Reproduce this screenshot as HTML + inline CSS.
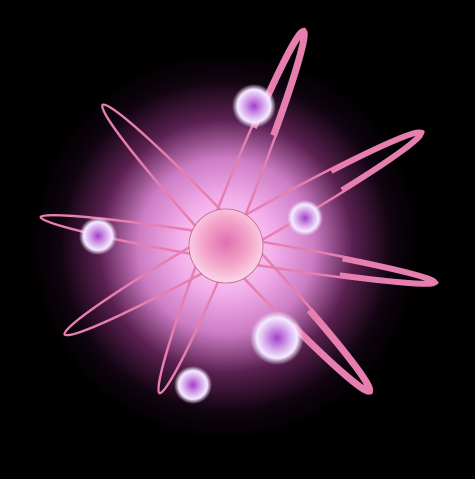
<!DOCTYPE html>
<html><head><meta charset="utf-8"><style>
html,body{margin:0;padding:0;background:#000;width:475px;height:479px;overflow:hidden}
</style></head><body>
<svg width="475" height="479" viewBox="0 0 475 479">
<defs>
<radialGradient id="glow" cx="226" cy="246" r="195" gradientUnits="userSpaceOnUse">
<stop offset="0" stop-color="#fde6f8"/>
<stop offset="0.25" stop-color="#f2aeea"/>
<stop offset="0.45" stop-color="#cc7cc4"/>
<stop offset="0.65" stop-color="#5a2050"/>
<stop offset="0.85" stop-color="#100410"/>
<stop offset="1" stop-color="#000"/>
</radialGradient>
<radialGradient id="nuc" cx="0.5" cy="0.45" r="0.55">
<stop offset="0" stop-color="#e070b0"/>
<stop offset="0.6" stop-color="#f4a8cc"/>
<stop offset="1" stop-color="#fad8e8"/>
</radialGradient>
<radialGradient id="el" cx="0.5" cy="0.5" r="0.5">
<stop offset="0" stop-color="#a040c8"/>
<stop offset="0.45" stop-color="#d8a8ec"/>
<stop offset="0.75" stop-color="#f4eaff"/>
<stop offset="1" stop-color="#f0d8ff" stop-opacity="0"/>
</radialGradient>
</defs>
<rect width="475" height="479" fill="#000"/>
<circle cx="226" cy="246" r="200" fill="url(#glow)"/>
<g fill="none" stroke="#e67fb0">
<g transform="translate(232,211) rotate(-68.3)">
<ellipse rx="196" ry="14" stroke-width="2.5"/>
<ellipse rx="193" ry="12" stroke-width="7" pathLength="100" stroke-dasharray="14 72 14 0"/>
</g>
<g transform="translate(239,250) rotate(9.4)">
<ellipse rx="201" ry="12" stroke-width="2.5"/>
<ellipse rx="198" ry="10" stroke-width="6" pathLength="100" stroke-dasharray="12 76 12 0"/>
</g>
<g transform="translate(237,249) rotate(47)">
<ellipse rx="197" ry="15" stroke-width="2.5"/>
<ellipse rx="194" ry="13" stroke-width="7" pathLength="100" stroke-dasharray="13 74 13 0"/>
</g>
<g transform="translate(244,233) rotate(-29.5)">
<ellipse rx="206" ry="15" stroke-width="2.5"/>
<ellipse rx="203" ry="13" stroke-width="6" pathLength="100" stroke-dasharray="12 76 12 0"/>
</g>
</g>
<circle cx="226" cy="246" r="37" fill="url(#nuc)" stroke="#c0608c" stroke-width="0.8"/>
<circle cx="254" cy="106" r="22" fill="url(#el)"/>
<circle cx="305" cy="218" r="18" fill="url(#el)"/>
<circle cx="98" cy="236" r="19" fill="url(#el)"/>
<circle cx="277" cy="338" r="27" fill="url(#el)"/>
<circle cx="193" cy="385" r="19" fill="url(#el)"/>
</svg>
</body></html>
